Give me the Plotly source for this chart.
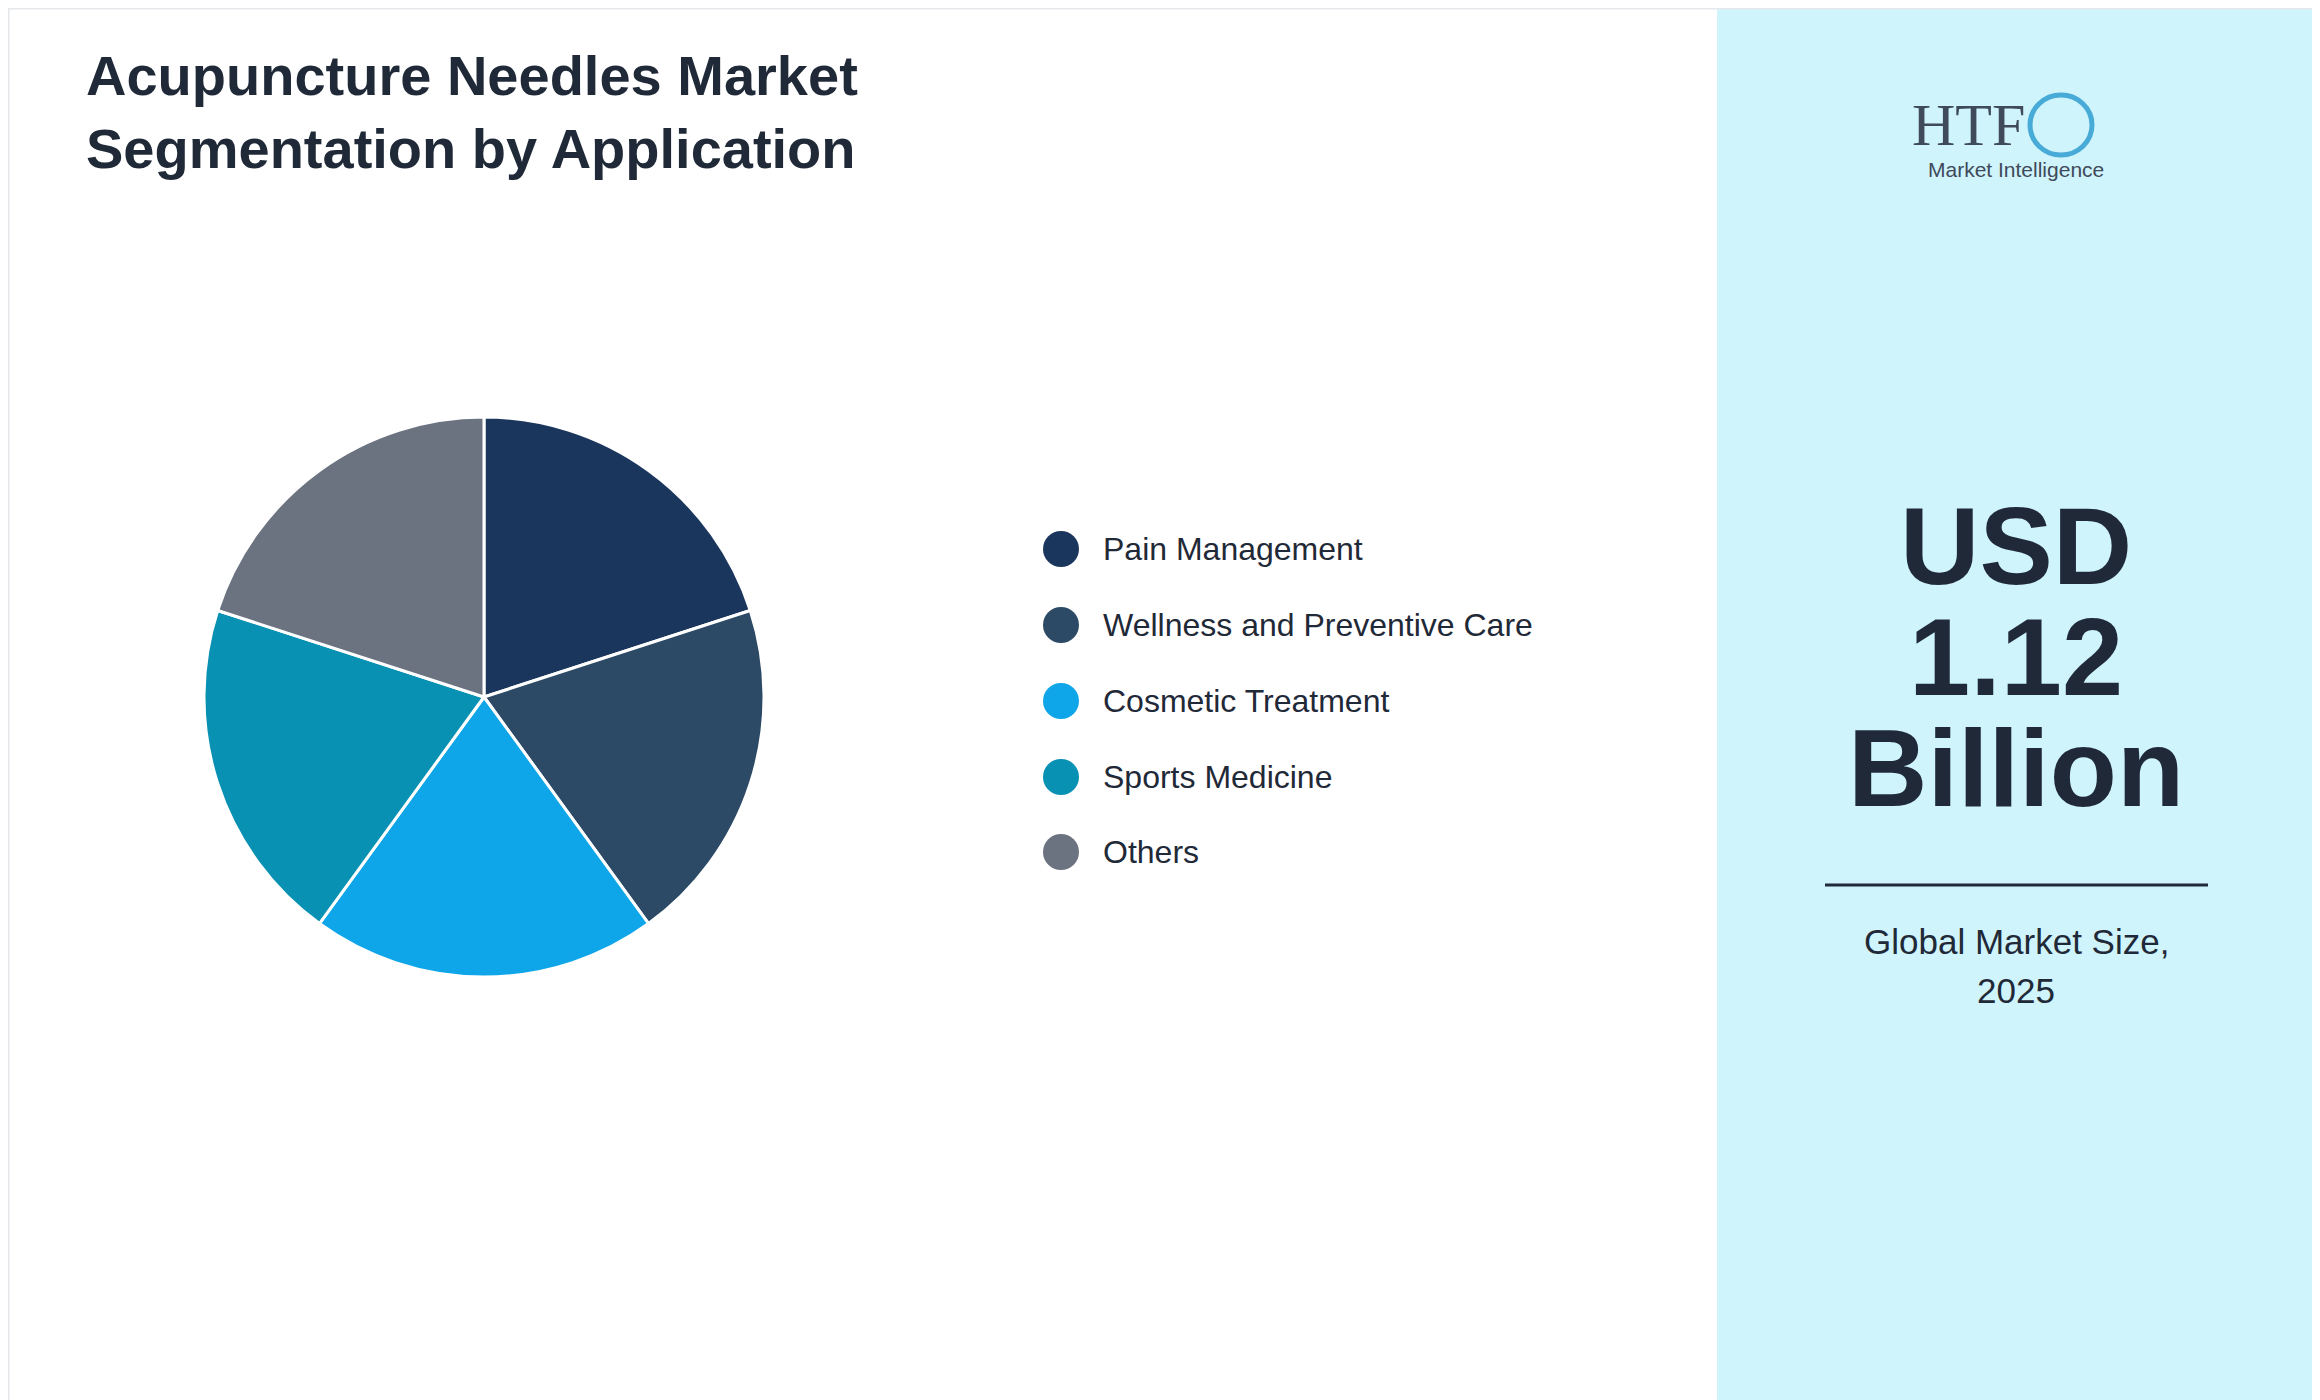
import plotly.graph_objects as go

categories = ["Pain Management", "Wellness and Preventive Care", "Cosmetic Treatment", "Sports Medicine", "Others"]
values = [20, 20, 20, 20, 20]
colors = ["#1b365d", "#2c4a66", "#0ea5e9", "#0891b2", "#6b7280"]
headline = ["USD", "1.12", "Billion"]
subtitle = ["Global Market Size,", "2025"]

W, H = 2320, 1400
D = 8  # page offset compensation
def px(x): return (x - D) / W
def py(y): return 1 - (y - D) / H

cx, cy, r = 484, 697, 280

fig = go.Figure(go.Pie(
    labels=categories, values=values, sort=False, direction="clockwise", rotation=0,
    marker=dict(colors=colors, line=dict(color="white", width=3)),
    textinfo="none", hoverinfo="label+percent", showlegend=False,
    domain=dict(x=[px(cx - r), px(cx + r)], y=[py(cy + r), py(cy - r)]),
))

shapes = [
    dict(type="rect", xref="paper", yref="paper", x0=px(1717), x1=1, y0=0, y1=1,
         fillcolor="#cff4fc", line=dict(width=0), layer="below"),
    dict(type="rect", xref="paper", yref="paper", x0=0, x1=1, y0=0, y1=1,
         line=dict(color="#e5e7eb", width=3), fillcolor="rgba(0,0,0,0)"),
    dict(type="line", xref="paper", yref="paper", x0=px(1825), x1=px(2208),
         y0=py(885), y1=py(885), line=dict(color="#1f2937", width=3)),
]
ann = []
ys = [549, 625, 701, 777, 852]
for name, col, y in zip(categories, colors, ys):
    shapes.append(dict(type="circle", xref="paper", yref="paper",
                       x0=px(1061 - 18), x1=px(1061 + 18),
                       y0=py(y + 18), y1=py(y - 18),
                       fillcolor=col, line=dict(width=0)))
    ann.append(dict(text=name, x=px(1101), y=py(y), xref="paper", yref="paper",
                    xanchor="left", yanchor="middle", showarrow=False,
                    font=dict(size=32, color="#1f2937")))

ann.append(dict(text="<b>Acupuncture Needles Market<br>Segmentation by Application</b>",
                x=px(84), y=py(42), xref="paper", yref="paper", xanchor="left", yanchor="top",
                align="left", showarrow=False, font=dict(size=56, color="#1f2937")))
for t, y in zip(headline, [545, 656, 767]):
    ann.append(dict(text="<b>" + t + "</b>", x=px(2016), y=py(y),
                    xref="paper", yref="paper", xanchor="center", yanchor="middle", showarrow=False,
                    font=dict(size=110, color="#1f2937")))
for t, y in zip(subtitle, [941, 990]):
    ann.append(dict(text=t, x=px(2016), y=py(y),
                    xref="paper", yref="paper", xanchor="center", yanchor="middle", showarrow=False,
                    font=dict(size=35, color="#1f2937")))
ann.append(dict(text="<span style='font-family:Liberation Serif'>HTF</span>", x=px(1968), y=py(125),
                xref="paper", yref="paper", xanchor="center", yanchor="middle", showarrow=False,
                font=dict(size=60, color="#3f4a5a")))
ann.append(dict(text="Market Intelligence", x=px(2016), y=py(170),
                xref="paper", yref="paper", xanchor="center", yanchor="middle", showarrow=False,
                font=dict(size=21, color="#3f4a5a")))
shapes.append(dict(type="circle", xref="paper", yref="paper", x0=px(2030), x1=px(2092),
                   y0=py(155), y1=py(95), fillcolor="rgba(14,165,233,0.0)",
                   line=dict(width=5, color="rgba(14,140,200,0.7)")))

fig.update_layout(width=W, height=H, margin=dict(l=0, r=0, t=0, b=0),
                  paper_bgcolor="white", plot_bgcolor="white",
                  font=dict(family="Liberation Sans, Arial, sans-serif"),
                  shapes=shapes, annotations=ann)
fig.write_html("out.html")
